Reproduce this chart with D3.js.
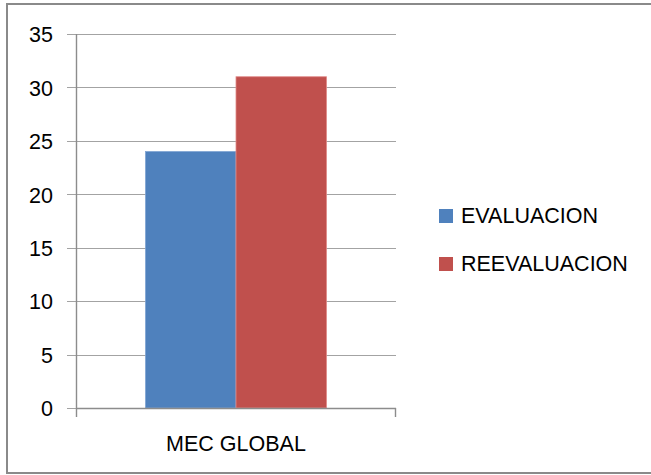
<!DOCTYPE html>
<html>
<head>
<meta charset="utf-8">
<script src="https://cdn.jsdelivr.net/npm/d3@7"></script>
<style>
  html, body { margin: 0; padding: 0; background: #fff; }
  svg { display: block; }
  text { font-family: "Liberation Sans", Arial, sans-serif; fill: #000; }
</style>
</head>
<body>
<svg id="chart" width="651" height="475"></svg>
<script>
// Chart data
const categories = ["MEC GLOBAL"];
const seriesNames = ["EVALUACION", "REEVALUACION"];
const seriesValues = [[24], [31]];
const seriesColors = ["#4F81BD", "#C0504D"];
const seriesEdges = ["#7FA3D3", "#E08A88"];
const yTicks = [0, 5, 10, 15, 20, 25, 30, 35];

const svg = d3.select("#chart");
const fontSize = 21.5;

// Outer frame (right edge runs past the viewport)
svg.append("rect")
  .attr("x", 7).attr("y", 4)
  .attr("width", 700).attr("height", 469)
  .attr("fill", "#fff")
  .attr("stroke", "#8a8a8a").attr("stroke-width", 2);

const plot = { left: 76, right: 396, top: 34, bottom: 408 };

const y = d3.scaleLinear().domain([0, 35]).range([plot.bottom, plot.top]);
const x = d3.scaleBand().domain(categories)
  .range([plot.left, plot.right]).paddingOuter(0.384).paddingInner(0);
const xs = d3.scaleBand().domain(d3.range(seriesNames.length))
  .range([0, x.bandwidth()]);

// Horizontal gridlines with tick stubs on the left
svg.append("g").selectAll("line").data(yTicks).join("line")
  .attr("x1", plot.left - 9).attr("x2", plot.right)
  .attr("y1", d => Math.round(y(d)) + 0.5).attr("y2", d => Math.round(y(d)) + 0.5)
  .attr("stroke", "#a3a3a3").attr("stroke-width", 1.2);

// Y-axis labels
const yAxis = d3.axisLeft(y).tickValues(yTicks).tickSize(0).tickPadding(0);
const gy = svg.append("g").attr("transform", `translate(${plot.left - 23},0)`).call(yAxis);
gy.select(".domain").remove();
gy.selectAll("text")
  .style("font-family", '"Liberation Sans", Arial, sans-serif')
  .style("font-size", fontSize + "px")
  .attr("fill", "#000")
  .attr("dy", "0.36em");

// Bars
seriesNames.forEach((name, i) => {
  svg.append("g").selectAll("rect").data(categories).join("rect")
    .attr("x", (d) => x(d) + xs(i))
    .attr("y", (d, j) => y(seriesValues[i][j]))
    .attr("width", xs.bandwidth())
    .attr("height", (d, j) => plot.bottom - y(seriesValues[i][j]))
    .attr("fill", seriesColors[i])
    .attr("stroke", seriesEdges[i]).attr("stroke-width", 0.8);
});

// Axis lines
svg.append("line")
  .attr("x1", plot.left + 0.5).attr("x2", plot.left + 0.5)
  .attr("y1", plot.top).attr("y2", plot.bottom + 9)
  .attr("stroke", "#8c8c8c").attr("stroke-width", 1.4);
svg.append("line")
  .attr("x1", plot.left).attr("x2", plot.right)
  .attr("y1", plot.bottom + 0.5).attr("y2", plot.bottom + 0.5)
  .attr("stroke", "#8c8c8c").attr("stroke-width", 1.4);
svg.append("line")
  .attr("x1", plot.right - 0.5).attr("x2", plot.right - 0.5)
  .attr("y1", plot.bottom).attr("y2", plot.bottom + 9)
  .attr("stroke", "#8c8c8c").attr("stroke-width", 1.4);

// Category label
svg.append("g").selectAll("text").data(categories).join("text")
  .attr("x", d => x(d) + x.bandwidth() / 2)
  .attr("y", 451)
  .attr("text-anchor", "middle")
  .style("font-size", fontSize + "px")
  .text(d => d);

// Legend
const legend = svg.append("g").selectAll("g").data(seriesNames).join("g")
  .attr("transform", (d, i) => `translate(439,${209 + i * 48})`);
legend.append("rect")
  .attr("width", 14).attr("height", 14)
  .attr("fill", (d, i) => seriesColors[i]);
legend.append("text")
  .attr("x", 22).attr("y", 13.5)
  .style("font-size", fontSize + "px")
  .text(d => d);
</script>
</body>
</html>
